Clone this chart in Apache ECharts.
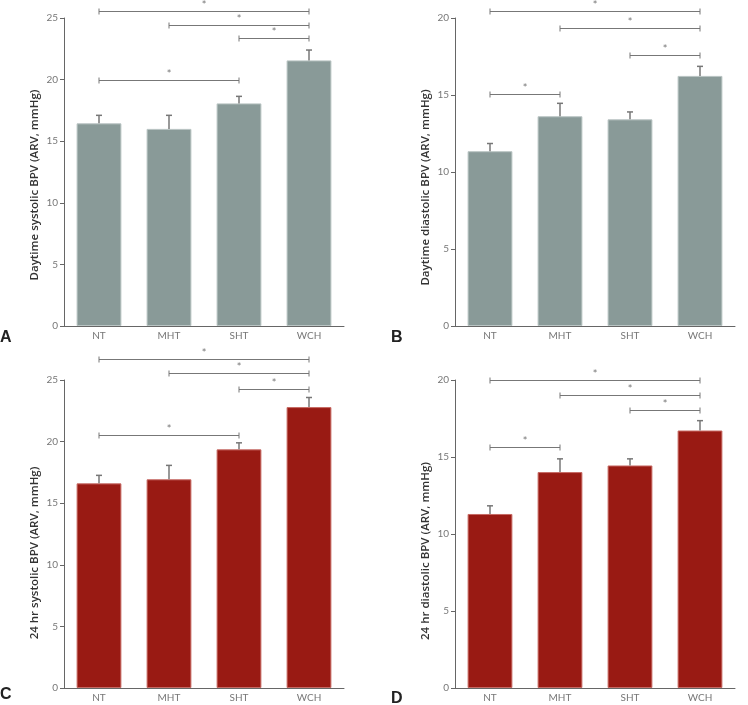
<html>
<head>
<meta charset="utf-8" />
<title>BPV by group</title>
<script src="https://cdn.jsdelivr.net/npm/echarts@6/dist/echarts.min.js"></script>
<style type="text/css">
html, body { margin: 0; padding: 0; background: #fff; }
#echarts { width: 748px; height: 705px; }
</style>
</head>
<body>
<div id="echarts"></div>
<script type="text/javascript">

var myChart = echarts.init(document.getElementById("echarts"));

// groups
var categories = ['NT', 'MHT', 'SHT', 'WCH'];

// A: daytime systolic
var daySysMean = [16.45, 16.0, 18.07, 21.56];
var daySysSE = [0.65, 1.1, 0.57, 0.84];
var daySysBrackets = [[0, 3, 25.53], [1, 3, 24.4], [2, 3, 23.34], [0, 2, 19.99]];

// B: daytime diastolic
var dayDiaMean = [11.35, 13.62, 13.42, 16.24];
var dayDiaSE = [0.5, 0.84, 0.48, 0.62];
var dayDiaBrackets = [[0, 3, 20.43], [1, 3, 19.37], [2, 3, 17.57], [0, 1, 15.07]];

// C: 24 hr systolic
var hrSysMean = [16.61, 16.94, 19.37, 22.8];
var hrSysSE = [0.65, 1.13, 0.53, 0.78];
var hrSysBrackets = [[0, 3, 26.74], [1, 3, 25.55], [2, 3, 24.31], [0, 2, 20.53]];

// D: 24 hr diastolic
var hrDiaMean = [11.3, 14.02, 14.45, 16.72];
var hrDiaSE = [0.53, 0.86, 0.43, 0.64];
var hrDiaBrackets = [[0, 3, 19.98], [1, 3, 19.05], [2, 3, 18.02], [0, 1, 15.64]];

var panels = [
    {title: 'Daytime systolic BPV (ARV, mmHg)', mean: daySysMean, se: daySysSE, brackets: daySysBrackets, max: 25, color: '#899a98', border: '#b9c4c3', shift: 26},
    {title: 'Daytime diastolic BPV (ARV, mmHg)', mean: dayDiaMean, se: dayDiaSE, brackets: dayDiaBrackets, max: 20, color: '#899a98', border: '#b9c4c3', shift: 31},
    {title: '24 hr systolic BPV (ARV, mmHg)', mean: hrSysMean, se: hrSysSE, brackets: hrSysBrackets, max: 25, color: '#991a13', border: '#c76a64', shift: 38},
    {title: '24 hr diastolic BPV (ARV, mmHg)', mean: hrDiaMean, se: hrDiaSE, brackets: hrDiaBrackets, max: 20, color: '#991a13', border: '#c76a64', shift: 34}
];

var gridPos = [
    {left: 64, top: 18, width: 280, height: 308},
    {left: 455, top: 18, width: 280, height: 308},
    {left: 64, top: 380, width: 280, height: 308},
    {left: 455, top: 380, width: 280, height: 308}
];

function renderError(params, api) {
    var x = api.value(0);
    var top = api.coord([x, api.value(1) + api.value(2)]);
    var base = api.coord([x, api.value(1)]);
    return {
        type: 'group',
        children: [
            {type: 'line', shape: {x1: base[0], y1: base[1], x2: top[0], y2: top[1]}, style: {stroke: '#777', lineWidth: 1.5}},
            {type: 'line', shape: {x1: top[0] - 3, y1: top[1], x2: top[0] + 3, y2: top[1]}, style: {stroke: '#777', lineWidth: 1.5}}
        ]
    };
}

function renderBracket(params, api) {
    var p1 = api.coord([api.value(0), api.value(2)]);
    var p2 = api.coord([api.value(1), api.value(2)]);
    var y = Math.round(p1[1]) + 0.5;
    var st = {stroke: '#777', lineWidth: 1};
    return {
        type: 'group',
        children: [
            {type: 'line', shape: {x1: p1[0], y1: y, x2: p2[0], y2: y}, style: st},
            {type: 'line', shape: {x1: p1[0], y1: y - 3, x2: p1[0], y2: y + 3}, style: st},
            {type: 'line', shape: {x1: p2[0], y1: y - 3, x2: p2[0], y2: y + 3}, style: st},
            {type: 'text', x: (p1[0] + p2[0]) / 2, y: y - 1, style: {text: '*', fill: '#777', font: '11px Lato', textAlign: 'center', textVerticalAlign: 'bottom'}}
        ]
    };
}

var grid = [], xAxis = [], yAxis = [], series = [];
panels.forEach(function (p, i) {
    grid.push(gridPos[i]);
    xAxis.push({
        type: 'category', gridIndex: i, data: categories,
        axisLine: {lineStyle: {color: '#666', width: 1}},
        axisTick: {alignWithLabel: true, length: 4, lineStyle: {color: '#666'}},
        axisLabel: {color: '#777', fontSize: 10, fontFamily: 'Lato', margin: 5}
    });
    yAxis.push({
        type: 'value', gridIndex: i, min: 0, max: p.max, interval: 5,
        name: p.title, nameLocation: 'middle', nameGap: 23, nameRotate: 90,
        nameTextStyle: {color: '#333', fontSize: 11.5, fontWeight: 600, fontFamily: 'Open Sans', padding: [0, p.shift, 0, 0]},
        axisLine: {show: true, lineStyle: {color: '#666', width: 1}},
        axisTick: {show: true, length: 4, lineStyle: {color: '#666'}},
        axisLabel: {color: '#777', fontSize: 10, fontFamily: 'Lato', margin: 6},
        splitLine: {show: false}
    });
    series.push({
        type: 'bar', xAxisIndex: i, yAxisIndex: i, data: p.mean, barWidth: '64%',
        itemStyle: {color: p.color, borderColor: p.border, borderWidth: 1},
        silent: true
    });
    series.push({
        type: 'custom', xAxisIndex: i, yAxisIndex: i, renderItem: renderError,
        data: p.mean.map(function (m, k) { return [k, m, p.se[k]]; }),
        encode: {x: 0, y: 1}, z: 3, silent: true
    });
    series.push({
        type: 'custom', xAxisIndex: i, yAxisIndex: i, renderItem: renderBracket,
        data: p.brackets, clip: false,
        encode: {x: [0, 1], y: 2}, z: 3, silent: true
    });
});

var option = {
    animation: false,
    grid: grid,
    xAxis: xAxis,
    yAxis: yAxis,
    series: series,
    graphic: [
        {type: 'text', left: 0, top: 330, style: {text: 'A', fill: '#222', font: 'bold 16px "Liberation Sans"'}},
        {type: 'text', left: 391, top: 330, style: {text: 'B', fill: '#222', font: 'bold 16px "Liberation Sans"'}},
        {type: 'text', left: 0, top: 687, style: {text: 'C', fill: '#222', font: 'bold 16px "Liberation Sans"'}},
        {type: 'text', left: 391, top: 691, style: {text: 'D', fill: '#222', font: 'bold 16px "Liberation Sans"'}}
    ]
};

myChart.setOption(option);

</script>
</body>
</html>
